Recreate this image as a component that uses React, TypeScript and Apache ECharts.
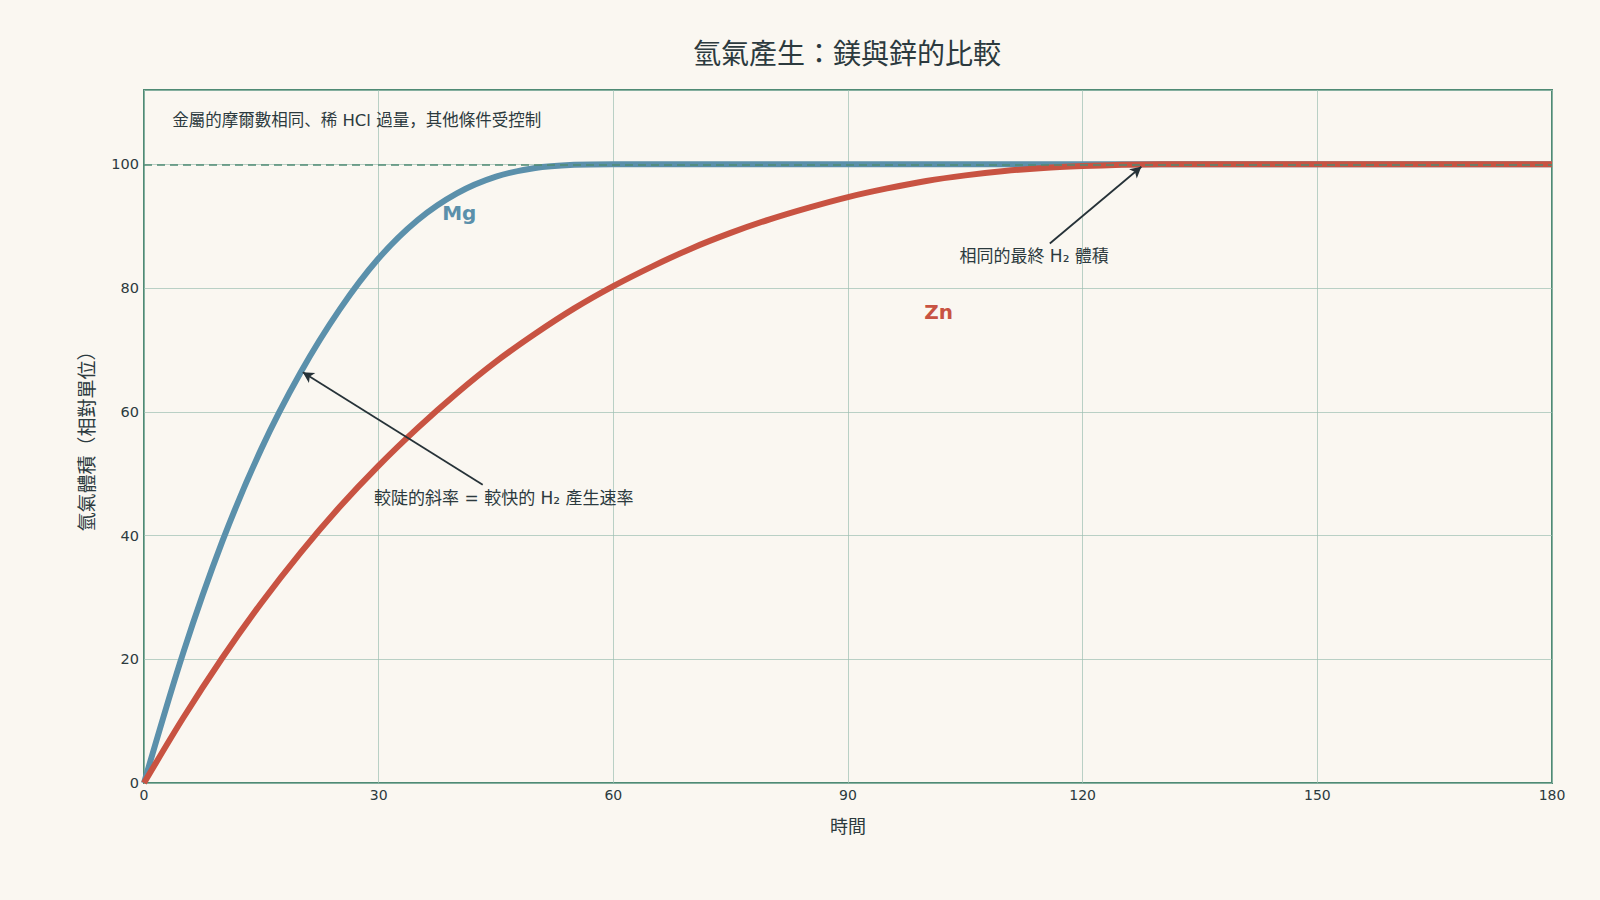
import { useEffect, useRef } from 'react';
import * as echarts from 'echarts';

// time in seconds (every 5 s), volume in relative units
const times = [
  0, 5, 10, 15, 20, 25, 30, 35, 40, 45, 50, 55, 60, 65, 70, 75, 80, 85, 90,
  95, 100, 105, 110, 115, 120, 125, 130, 135, 140, 145, 150, 155, 160, 165, 170, 175, 180,
];
const mgVolume = [
  0, 21, 39, 54, 66.3, 76.5, 84.8, 91, 95.3, 98, 99.4, 99.9, 100, 100, 100, 100, 100, 100, 100,
  100, 100, 100, 100, 100, 100, 100, 100, 100, 100, 100, 100, 100, 100, 100, 100, 100, 100,
];
const znVolume = [
  0, 10.5, 20.2, 29.1, 37.2, 44.6, 51.3, 57.4, 63, 68.1, 72.6, 76.7, 80.3, 83.5, 86.4, 88.9, 91.1, 93, 94.7,
  96.1, 97.3, 98.2, 98.9, 99.4, 99.7, 99.9, 100, 100, 100, 100, 100, 100, 100, 100, 100, 100, 100,
];
const xTicks = [0, 30, 60, 90, 120, 150, 180];

const BG = '#faf7f1';
const MG = '#5b90ab';
const ZN = '#c85342';
const FRAME = '#4f8a74';
const INK = '#2c3a3e';
const FONT = '"DejaVu Sans", "Noto Sans CJK JP", sans-serif';

export default function App() {
  const chartRef = useRef<HTMLDivElement>(null);

  useEffect(() => {
    document.body.style.margin = '0';
    document.body.style.background = BG;
    const chart = echarts.init(chartRef.current, null, { renderer: 'svg' });

    const mgData = times.map((t, i) => [t, mgVolume[i]]);
    const znData = times.map((t, i) => [t, znVolume[i]]);

    const note = (coord: number[], text: string, extra: any = {}) => ({
      coord,
      symbol: 'circle',
      symbolSize: 0,
      label: {
        show: true,
        position: 'inside',
        formatter: text,
        color: INK,
        fontSize: 17,
        fontFamily: FONT,
        ...extra,
      },
    });

    const option = {
      animation: false,
      backgroundColor: BG,
      textStyle: { fontFamily: FONT },
      title: {
        text: '氫氣產生：鎂與鋅的比較',
        left: 842,
        top: 35,
        textAlign: 'center',
        textStyle: { fontSize: 28, fontWeight: 'normal', color: INK, fontFamily: FONT },
      },
      grid: {
        left: 144,
        right: 48,
        top: 90,
        bottom: 117,
        show: true,
        borderColor: FRAME,
        borderWidth: 2,
        backgroundColor: 'transparent',
      },
      xAxis: {
        type: 'value',
        min: 0,
        max: 180,
        interval: 30,
        name: '時間',
        nameLocation: 'middle',
        nameGap: 34,
        nameTextStyle: { fontSize: 18, color: INK },
        axisLine: { show: false },
        axisTick: { show: false },
        axisLabel: { color: INK, fontSize: 14, margin: 5, customValues: xTicks },
        splitLine: { show: true, lineStyle: { color: '#9dbfb2', width: 1, opacity: 0.7 } },
      },
      yAxis: {
        type: 'value',
        min: 0,
        max: 112,
        interval: 20,
        name: '氫氣體積（相對單位）',
        nameLocation: 'middle',
        nameGap: 48,
        nameTextStyle: { fontSize: 19, color: INK },
        axisLine: { show: false },
        axisTick: { show: false },
        axisLabel: { color: INK, fontSize: 14.5, margin: 5, showMaxLabel: false },
        splitLine: { show: true, lineStyle: { color: '#9dbfb2', width: 1, opacity: 0.7 } },
      },
      series: [
        {
          name: 'Mg',
          type: 'line',
          data: mgData,
          smooth: 0.3,
          showSymbol: false,
          lineStyle: { color: MG, width: 6 },
          itemStyle: { color: MG },
          z: 3,
          markPoint: {
            silent: true,
            data: [
              note([40.3, 92.2], 'Mg', { color: MG, fontSize: 20, fontWeight: 'bold' }),
              note([3.6, 107.1], '金屬的摩爾數相同、稀 HCl 過量，其他條件受控制', { fontSize: 16.5, align: 'left' }),
              note([46, 46.1], '較陡的斜率 = 較快的 H₂ 產生速率'),
            ],
          },
          markLine: {
            silent: true,
            symbol: ['none', 'arrow'],
            symbolSize: [9, 11],
            label: { show: false },
            lineStyle: { color: '#263238', width: 1.8, type: 'solid' },
            data: [
              [{ coord: [43.3, 48.2] }, { coord: [20.3, 66.4] }],
              [{ coord: [115.8, 87.2] }, { coord: [127.5, 99.6] }],
            ],
          },
        },
        {
          name: 'Zn',
          type: 'line',
          data: znData,
          smooth: 0.3,
          showSymbol: false,
          lineStyle: { color: ZN, width: 6 },
          itemStyle: { color: ZN },
          z: 4,
          markPoint: {
            silent: true,
            data: [
              note([101.6, 76.2], 'Zn', { color: ZN, fontSize: 20, fontWeight: 'bold' }),
              note([113.8, 85.1], '相同的最終 H₂ 體積'),
            ],
          },
          markLine: {
            silent: true,
            symbol: ['none', 'none'],
            label: { show: false },
            lineStyle: { color: FRAME, width: 1.6, type: [8, 5] },
            data: [{ yAxis: 100 }],
          },
        },
      ],
    };

    chart.setOption(option);
    return () => {
      chart.dispose();
    };
  }, []);

  return <div ref={chartRef} style={{ width: '1600px', height: '900px', background: BG }} />;
}
